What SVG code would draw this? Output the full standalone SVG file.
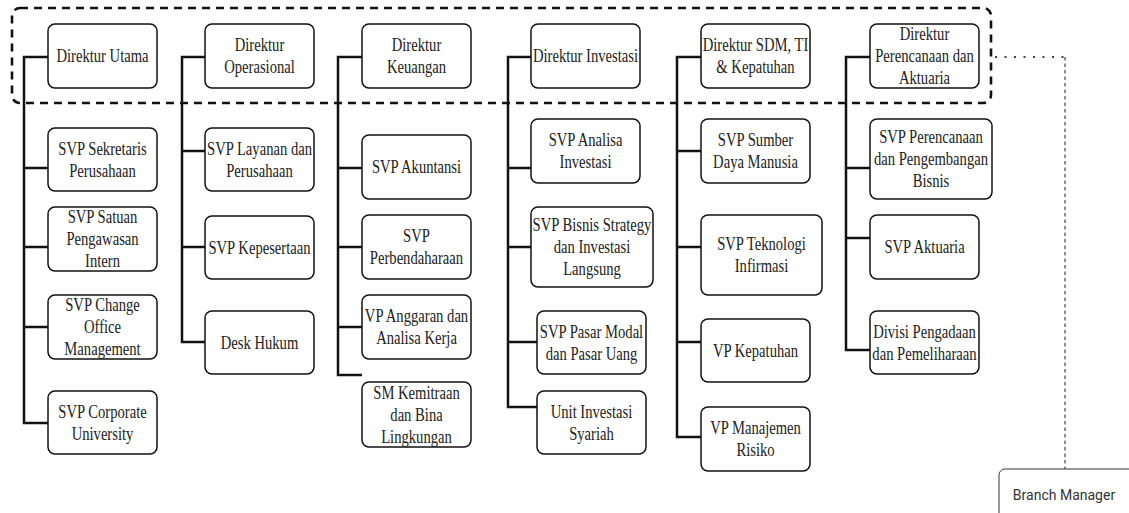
<svg xmlns="http://www.w3.org/2000/svg" width="1129" height="513" viewBox="0 0 1129 513">
<style>
.box{fill:#fff;stroke:#111;stroke-width:1.5}
.t{font-family:"Liberation Serif","Times New Roman",serif;font-size:19.5px;fill:#222;text-anchor:middle}
.c{fill:none;stroke:#111;stroke-width:2.5}
.grp{fill:none;stroke:#111;stroke-width:2.6;stroke-dasharray:8 6}
</style>
<rect width="1129" height="513" fill="#fff"/>
<rect class="grp" x="12" y="8" width="979" height="95" rx="8"/>
<g id="connectors">
<path class="c" d="M48 57H24V423H48M24 168H48M24 247H48M24 327H48"/>
<path class="c" d="M205 57H182V342H205M182 151H205M182 247H205"/>
<path class="c" d="M362 57H338V375H362M338 168H362M338 247H362M338 327H362"/>
<path class="c" d="M531 57H508V407H537M508 168H531M508 247H531M508 342H537"/>
<path class="c" d="M701 57H677V437H701M677 151H701M677 247H701M677 342H701"/>
<path class="c" d="M870 57H846V350H870M846 168H870M846 238H870"/>
<path d="M995 57H1065" fill="none" stroke="#444" stroke-width="2" stroke-dasharray="2 7.5"/>
<path d="M1065 57V469" fill="none" stroke="#555" stroke-width="1.3" stroke-dasharray="3.5 3"/>
</g>
<g id="direktur-utama"><rect class="box" x="48" y="24" width="109" height="64" rx="7"/><text class="t" transform="translate(102.5,0) scale(0.75,1)"><tspan x="0" y="62.5">Direktur Utama</tspan></text></g>
<g id="direktur-operasional"><rect class="box" x="205" y="24" width="109" height="64" rx="7"/><text class="t" transform="translate(259.5,0) scale(0.75,1)"><tspan x="0" y="51.5">Direktur</tspan><tspan x="0" y="73.5">Operasional</tspan></text></g>
<g id="direktur-keuangan"><rect class="box" x="362" y="24" width="109" height="64" rx="7"/><text class="t" transform="translate(416.5,0) scale(0.75,1)"><tspan x="0" y="51.5">Direktur</tspan><tspan x="0" y="73.5">Keuangan</tspan></text></g>
<g id="direktur-investasi"><rect class="box" x="531" y="24" width="109" height="64" rx="7"/><text class="t" transform="translate(585.5,0) scale(0.75,1)"><tspan x="0" y="62.5">Direktur Investasi</tspan></text></g>
<g id="direktur-sdm"><rect class="box" x="701" y="24" width="109" height="64" rx="7"/><text class="t" transform="translate(755.5,0) scale(0.75,1)"><tspan x="0" y="51.5">Direktur SDM, TI</tspan><tspan x="0" y="73.5">&amp; Kepatuhan</tspan></text></g>
<g id="direktur-perencanaan"><rect class="box" x="870" y="24" width="109" height="64" rx="7"/><text class="t" transform="translate(924.5,0) scale(0.75,1)"><tspan x="0" y="40.5">Direktur</tspan><tspan x="0" y="62.5">Perencanaan dan</tspan><tspan x="0" y="84.5">Aktuaria</tspan></text></g>

<g id="svp-sekretaris"><rect class="box" x="48" y="128" width="109" height="63" rx="7"/><text class="t" transform="translate(102.5,0) scale(0.75,1)"><tspan x="0" y="155">SVP Sekretaris</tspan><tspan x="0" y="177">Perusahaan</tspan></text></g>
<g id="svp-spi"><rect class="box" x="48" y="207" width="109" height="64" rx="7"/><text class="t" transform="translate(102.5,0) scale(0.75,1)"><tspan x="0" y="223.5">SVP Satuan</tspan><tspan x="0" y="245.5">Pengawasan</tspan><tspan x="0" y="267.5">Intern</tspan></text></g>
<g id="svp-change"><rect class="box" x="48" y="295" width="109" height="64" rx="7"/><text class="t" transform="translate(102.5,0) scale(0.75,1)"><tspan x="0" y="311.5">SVP Change</tspan><tspan x="0" y="333.5">Office</tspan><tspan x="0" y="355.5">Management</tspan></text></g>
<g id="svp-corpu"><rect class="box" x="48" y="391" width="109" height="63" rx="7"/><text class="t" transform="translate(102.5,0) scale(0.75,1)"><tspan x="0" y="418">SVP Corporate</tspan><tspan x="0" y="440">University</tspan></text></g>

<g id="svp-layanan"><rect class="box" x="205" y="128" width="109" height="63" rx="7"/><text class="t" transform="translate(259.5,0) scale(0.75,1)"><tspan x="0" y="155">SVP Layanan dan</tspan><tspan x="0" y="177">Perusahaan</tspan></text></g>
<g id="svp-kepesertaan"><rect class="box" x="205" y="216" width="109" height="63" rx="7"/><text class="t" transform="translate(259.5,0) scale(0.75,1)"><tspan x="0" y="254">SVP Kepesertaan</tspan></text></g>
<g id="desk-hukum"><rect class="box" x="205" y="311" width="109" height="63" rx="7"/><text class="t" transform="translate(259.5,0) scale(0.75,1)"><tspan x="0" y="349">Desk Hukum</tspan></text></g>

<g id="svp-akuntansi"><rect class="box" x="362" y="135" width="109" height="64" rx="7"/><text class="t" transform="translate(416.5,0) scale(0.75,1)"><tspan x="0" y="173.5">SVP Akuntansi</tspan></text></g>
<g id="svp-perbendaharaan"><rect class="box" x="362" y="215" width="109" height="64" rx="7"/><text class="t" transform="translate(416.5,0) scale(0.75,1)"><tspan x="0" y="242.5">SVP</tspan><tspan x="0" y="264.5">Perbendaharaan</tspan></text></g>
<g id="vp-anggaran"><rect class="box" x="362" y="295" width="109" height="64" rx="7"/><text class="t" transform="translate(416.5,0) scale(0.75,1)"><tspan x="0" y="322.5">VP Anggaran dan</tspan><tspan x="0" y="344.5">Analisa Kerja</tspan></text></g>
<g id="sm-kemitraan"><rect class="box" x="362" y="382" width="109" height="65" rx="7"/><text class="t" transform="translate(416.5,0) scale(0.75,1)"><tspan x="0" y="399">SM Kemitraan</tspan><tspan x="0" y="421">dan Bina</tspan><tspan x="0" y="443">Lingkungan</tspan></text></g>

<g id="svp-analisa"><rect class="box" x="531" y="119" width="109" height="64" rx="7"/><text class="t" transform="translate(585.5,0) scale(0.75,1)"><tspan x="0" y="146.5">SVP Analisa</tspan><tspan x="0" y="168.5">Investasi</tspan></text></g>
<g id="svp-bisnis"><rect class="box" x="531" y="207" width="122" height="80" rx="7"/><text class="t" transform="translate(592,0) scale(0.75,1)"><tspan x="0" y="231.5">SVP Bisnis Strategy</tspan><tspan x="0" y="253.5">dan Investasi</tspan><tspan x="0" y="275.5">Langsung</tspan></text></g>
<g id="svp-pasar"><rect class="box" x="537" y="311" width="109" height="63" rx="7"/><text class="t" transform="translate(591.5,0) scale(0.75,1)"><tspan x="0" y="338">SVP Pasar Modal</tspan><tspan x="0" y="360">dan Pasar Uang</tspan></text></g>
<g id="unit-syariah"><rect class="box" x="537" y="391" width="109" height="63" rx="7"/><text class="t" transform="translate(591.5,0) scale(0.75,1)"><tspan x="0" y="418">Unit Investasi</tspan><tspan x="0" y="440">Syariah</tspan></text></g>

<g id="svp-sdm"><rect class="box" x="701" y="119" width="109" height="64" rx="7"/><text class="t" transform="translate(755.5,0) scale(0.75,1)"><tspan x="0" y="146.5">SVP Sumber</tspan><tspan x="0" y="168.5">Daya Manusia</tspan></text></g>
<g id="svp-ti"><rect class="box" x="701" y="215" width="121" height="80" rx="7"/><text class="t" transform="translate(761.5,0) scale(0.75,1)"><tspan x="0" y="250.5">SVP Teknologi</tspan><tspan x="0" y="272.5">Infirmasi</tspan></text></g>
<g id="vp-kepatuhan"><rect class="box" x="701" y="319" width="109" height="63" rx="7"/><text class="t" transform="translate(755.5,0) scale(0.75,1)"><tspan x="0" y="357">VP Kepatuhan</tspan></text></g>
<g id="vp-risiko"><rect class="box" x="701" y="407" width="109" height="64" rx="7"/><text class="t" transform="translate(755.5,0) scale(0.75,1)"><tspan x="0" y="434.5">VP Manajemen</tspan><tspan x="0" y="456.5">Risiko</tspan></text></g>

<g id="svp-perencanaan"><rect class="box" x="870" y="119" width="122" height="80" rx="7"/><text class="t" transform="translate(931,0) scale(0.75,1)"><tspan x="0" y="143.5">SVP Perencanaan</tspan><tspan x="0" y="165.5">dan Pengembangan</tspan><tspan x="0" y="187.5">Bisnis</tspan></text></g>
<g id="svp-aktuaria"><rect class="box" x="870" y="215" width="109" height="64" rx="7"/><text class="t" transform="translate(924.5,0) scale(0.75,1)"><tspan x="0" y="253.5">SVP Aktuaria</tspan></text></g>
<g id="divisi-pengadaan"><rect class="box" x="870" y="311" width="109" height="63" rx="7"/><text class="t" transform="translate(924.5,0) scale(0.75,1)"><tspan x="0" y="338">Divisi Pengadaan</tspan><tspan x="0" y="360">dan Pemeliharaan</tspan></text></g>

<g id="branch-manager"><rect x="999" y="469" width="150" height="70" rx="6" fill="#fff" stroke="#333" stroke-width="1"/><text x="1064" y="500" font-family="Roboto, 'Liberation Sans', sans-serif" font-size="14" fill="#333" text-anchor="middle">Branch Manager</text></g>
</svg>
